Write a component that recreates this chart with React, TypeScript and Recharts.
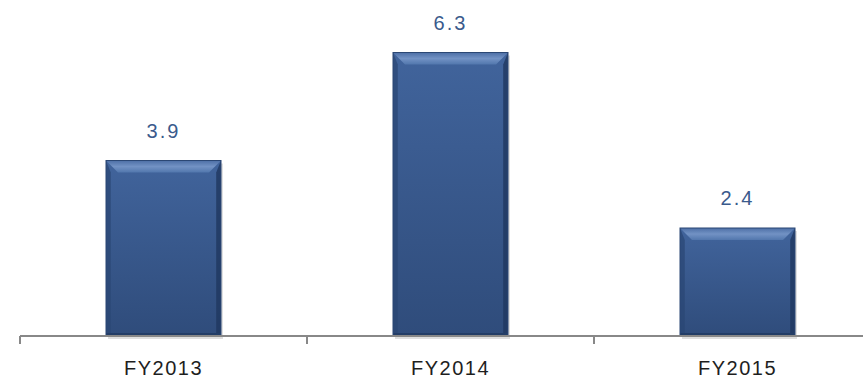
import React from 'react';
import { BarChart, Bar, XAxis, YAxis, LabelList } from 'recharts';

const YEARS = ['FY2013', 'FY2014', 'FY2015'];
const VALUES = [3.9, 6.3, 2.4];

const data = YEARS.map((name, i) => ({ name, value: VALUES[i] }));

const BevelBar = (props: any) => {
  const { x, y, width, height } = props;
  if (!height || height <= 0) return null;
  const b = 12;
  return (
    <g>
      <rect x={x + 2} y={y + 3} width={width} height={height} fill="rgba(0,0,0,0.12)" />
      <rect x={x} y={y} width={width} height={height} fill="url(#bodyGrad)" />
      <polygon
        points={`${x},${y} ${x + width},${y} ${x + width - b},${y + b} ${x + b},${y + b}`}
        fill="url(#topGrad)"
      />
      <polygon
        points={`${x},${y} ${x + b * 0.4},${y + b} ${x + b * 0.4},${y + height - 3} ${x},${y + height}`}
        fill="#2a4674"
        opacity={0.7}
      />
      <polygon
        points={`${x + width},${y} ${x + width - b * 0.4},${y + b} ${x + width - b * 0.4},${y + height - 3} ${x + width},${y + height}`}
        fill="#1f375f"
        opacity={0.8}
      />
      <rect x={x} y={y + height - 3} width={width} height={3} fill="#233d66" />
      <rect x={x} y={y} width={width} height={height} fill="none" stroke="#2b4774" strokeWidth={1} />
    </g>
  );
};

export default function App() {
  return (
    <div style={{ position: 'absolute', left: 0, top: 0, width: 863, height: 380, overflow: 'hidden', background: '#fff' }}>
      <BarChart
        width={900}
        height={380}
        data={data}
        margin={{ top: 21, right: 19, bottom: 0, left: 20 }}
        barCategoryGap={0}
      >
        <defs>
          <linearGradient id="bodyGrad" x1="0" y1="0" x2="0" y2="1">
            <stop offset="0%" stopColor="#41649c" />
            <stop offset="100%" stopColor="#2f4c7b" />
          </linearGradient>
          <linearGradient id="topGrad" x1="0" y1="0" x2="0" y2="1">
            <stop offset="0%" stopColor="#4d6fa6" />
            <stop offset="50%" stopColor="#7292c4" />
            <stop offset="100%" stopColor="#5277ad" />
          </linearGradient>
        </defs>
        <YAxis hide domain={[0, 7]} />
        <XAxis
          dataKey="name"
          height={44}
          interval={0}
          axisLine={{ stroke: '#888888', strokeWidth: 2 }}
          tickLine={false}
          tick={{ fill: '#1e1e1e', fontSize: 20, letterSpacing: 1.5, fontFamily: 'Arial, "Liberation Sans", sans-serif', dy: 17 }}
        />
        <Bar dataKey="value" barSize={115} shape={<BevelBar />} isAnimationActive={false}>
          <LabelList
            dataKey="value"
            position="top"
            offset={23}
            formatter={(v: number) => v.toFixed(1)}
            style={{ fill: '#3a5a8c', fontSize: 20, fontFamily: 'Arial, "Liberation Sans", sans-serif', letterSpacing: 2 }}
          />
        </Bar>
      </BarChart>
      <svg
        width={863}
        height={380}
        style={{ position: 'absolute', left: 0, top: 0, pointerEvents: 'none' }}
      >
        {[20, 307, 594].map((tx) => (
          <line key={tx} x1={tx} x2={tx} y1={336} y2={344} stroke="#888888" strokeWidth={2} />
        ))}
      </svg>
    </div>
  );
}
